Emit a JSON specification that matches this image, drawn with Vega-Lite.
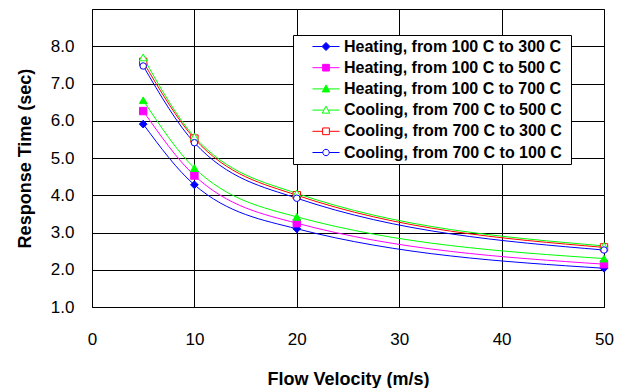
{
  "$schema": "https://vega.github.io/schema/vega-lite/v6.json",
  "width": 512,
  "height": 298,
  "autosize": {"type": "none"},
  "padding": {"left": 92, "top": 9, "right": 20, "bottom": 81},
  "background": "white",
  "data": {
    "values": [
      {"series": "Heating, from 100 C to 300 C", "velocity": 5, "time": 5.91},
      {"series": "Heating, from 100 C to 300 C", "velocity": 10, "time": 4.28},
      {"series": "Heating, from 100 C to 300 C", "velocity": 20, "time": 3.1},
      {"series": "Heating, from 100 C to 300 C", "velocity": 50, "time": 2.04},
      {"series": "Heating, from 100 C to 500 C", "velocity": 5, "time": 6.26},
      {"series": "Heating, from 100 C to 500 C", "velocity": 10, "time": 4.53},
      {"series": "Heating, from 100 C to 500 C", "velocity": 20, "time": 3.25},
      {"series": "Heating, from 100 C to 500 C", "velocity": 50, "time": 2.15},
      {"series": "Heating, from 100 C to 700 C", "velocity": 5, "time": 6.55},
      {"series": "Heating, from 100 C to 700 C", "velocity": 10, "time": 4.73},
      {"series": "Heating, from 100 C to 700 C", "velocity": 20, "time": 3.42},
      {"series": "Heating, from 100 C to 700 C", "velocity": 50, "time": 2.3},
      {"series": "Cooling, from 700 C to 500 C", "velocity": 5, "time": 7.7},
      {"series": "Cooling, from 700 C to 500 C", "velocity": 10, "time": 5.57},
      {"series": "Cooling, from 700 C to 500 C", "velocity": 20, "time": 4.05},
      {"series": "Cooling, from 700 C to 500 C", "velocity": 50, "time": 2.64},
      {"series": "Cooling, from 700 C to 300 C", "velocity": 5, "time": 7.58},
      {"series": "Cooling, from 700 C to 300 C", "velocity": 10, "time": 5.52},
      {"series": "Cooling, from 700 C to 300 C", "velocity": 20, "time": 4.0},
      {"series": "Cooling, from 700 C to 300 C", "velocity": 50, "time": 2.6},
      {"series": "Cooling, from 700 C to 100 C", "velocity": 5, "time": 7.47},
      {"series": "Cooling, from 700 C to 100 C", "velocity": 10, "time": 5.41},
      {"series": "Cooling, from 700 C to 100 C", "velocity": 20, "time": 3.92},
      {"series": "Cooling, from 700 C to 100 C", "velocity": 50, "time": 2.53}
    ]
  },
  "encoding": {
    "x": {
      "field": "velocity", "type": "quantitative",
      "scale": {"domain": [0, 50], "nice": false, "zero": false},
      "axis": {"values": [0, 10, 20, 30, 40, 50], "labelPadding": 24, "title": "Flow Velocity (m/s)", "titlePadding": 23}
    },
    "y": {
      "field": "time", "type": "quantitative",
      "scale": {"domain": [1, 9], "nice": false, "zero": false},
      "axis": {"values": [1, 2, 3, 4, 5, 6, 7, 8], "format": ".1f", "labelPadding": 18, "title": "Response Time (sec)", "titlePadding": 16}
    }
  },
  "layer": [
    {
      "mark": {"type": "line", "interpolate": "monotone", "strokeWidth": 1},
      "encoding": {
        "stroke": {
          "field": "series", "type": "nominal", "title": "\u00a0",
          "scale": {
            "domain": ["Heating, from 100 C to 300 C", "Heating, from 100 C to 500 C", "Heating, from 100 C to 700 C", "Cooling, from 700 C to 500 C", "Cooling, from 700 C to 300 C", "Cooling, from 700 C to 100 C"],
            "range": ["#0000FF", "#FF00FF", "#00FF00", "#00FF00", "#FF0000", "#0000FF"]
          }
        }
      }
    },
    {
      "transform": [{"filter": "datum.series == 'Heating, from 100 C to 300 C'"}],
      "mark": {"type": "point", "shape": "diamond", "size": 60, "filled": true, "strokeWidth": 1, "opacity": 1},
      "encoding": {
        "stroke": {"field": "series", "type": "nominal", "title": "\u00a0"},
        "fill": {"field": "series", "type": "nominal", "title": "\u00a0", "scale": {"domain": ["Heating, from 100 C to 300 C", "Heating, from 100 C to 500 C", "Heating, from 100 C to 700 C", "Cooling, from 700 C to 500 C", "Cooling, from 700 C to 300 C", "Cooling, from 700 C to 100 C"], "range": ["#0000FF", "#FF00FF", "#00FF00", "#FFFFFF", "#FFFFFF", "#FFFFFF"]}}
      }
    },
    {
      "transform": [{"filter": "datum.series == 'Heating, from 100 C to 500 C' || datum.series == 'Cooling, from 700 C to 300 C'"}],
      "mark": {"type": "point", "shape": "square", "size": 55, "filled": true, "strokeWidth": 1, "opacity": 1},
      "encoding": {"stroke": {"field": "series", "type": "nominal", "title": "\u00a0"}, "fill": {"field": "series", "type": "nominal", "title": "\u00a0"}}
    },
    {
      "transform": [{"filter": "datum.series == 'Heating, from 100 C to 700 C' || datum.series == 'Cooling, from 700 C to 500 C'"}],
      "mark": {"type": "point", "shape": "triangle-up", "size": 60, "filled": true, "strokeWidth": 1, "opacity": 1},
      "encoding": {"stroke": {"field": "series", "type": "nominal", "title": "\u00a0"}, "fill": {"field": "series", "type": "nominal", "title": "\u00a0"}}
    },
    {
      "transform": [{"filter": "datum.series == 'Cooling, from 700 C to 100 C'"}],
      "mark": {"type": "point", "shape": "circle", "size": 42, "filled": true, "strokeWidth": 1, "opacity": 1},
      "encoding": {"stroke": {"field": "series", "type": "nominal", "title": "\u00a0"}, "fill": {"field": "series", "type": "nominal", "title": "\u00a0"}}
    },
    {
      "mark": {"type": "point", "filled": true, "strokeWidth": 1, "opacity": 1, "size": 0},
      "encoding": {
        "stroke": {"field": "series", "type": "nominal", "title": "\u00a0"},
        "fill": {"field": "series", "type": "nominal", "title": "\u00a0"},
        "shape": {
          "field": "series", "type": "nominal", "title": "\u00a0",
          "scale": {
            "domain": ["Heating, from 100 C to 300 C", "Heating, from 100 C to 500 C", "Heating, from 100 C to 700 C", "Cooling, from 700 C to 500 C", "Cooling, from 700 C to 300 C", "Cooling, from 700 C to 100 C"],
            "range": [
              "M-1.69,0H-0.5M0.5,0H1.69M0,-0.5L0.5,0L0,0.5L-0.5,0Z",
              "M-1.69,0H-0.42M0.42,0H1.69M-0.42,-0.42H0.42V0.42H-0.42Z",
              "M-1.69,0H-0.27M0.27,0H1.69M0,-0.5L0.46,0.38H-0.46Z",
              "M-1.69,0H-0.27M0.27,0H1.69M0,-0.5L0.46,0.38H-0.46Z",
              "M-1.69,0H-0.42M0.42,0H1.69M-0.42,-0.42H0.42V0.42H-0.42Z",
              "M-1.69,0H-0.4M0.4,0H1.69M-0.4,0A0.4,0.4 0 1,0 0.4,0A0.4,0.4 0 1,0 -0.4,0Z"
            ]
          }
        }
      }
    }
  ],
  "config": {
    "view": {"stroke": "black", "strokeWidth": 1},
    "font": "Liberation Sans",
    "axis": {
      "grid": true, "gridColor": "black", "gridWidth": 1, "gridOpacity": 1,
      "ticks": false, "domain": false,
      "labelFont": "Liberation Sans", "labelFontSize": 17, "labelColor": "black",
      "titleFont": "Liberation Sans", "titleFontSize": 18, "titleFontWeight": "bold", "titleColor": "black",
      "labelFlush": false
    },
    "legend": {
      "orient": "none", "legendX": 201, "legendY": 26,
      "titleOrient": "right", "titlePadding": 6, "titleFontSize": 16, "titleFont": "Liberation Sans",
      "fillColor": "white", "strokeColor": "black", "padding": 3,
      "labelFont": "Liberation Sans", "labelFontSize": 16, "labelFontWeight": "bold", "labelColor": "black",
      "symbolSize": 256, "symbolStrokeWidth": 1, "symbolOffset": 21.5, "labelOffset": 9.5,
      "rowPadding": 4.2, "labelLimit": 400
    }
  }
}
